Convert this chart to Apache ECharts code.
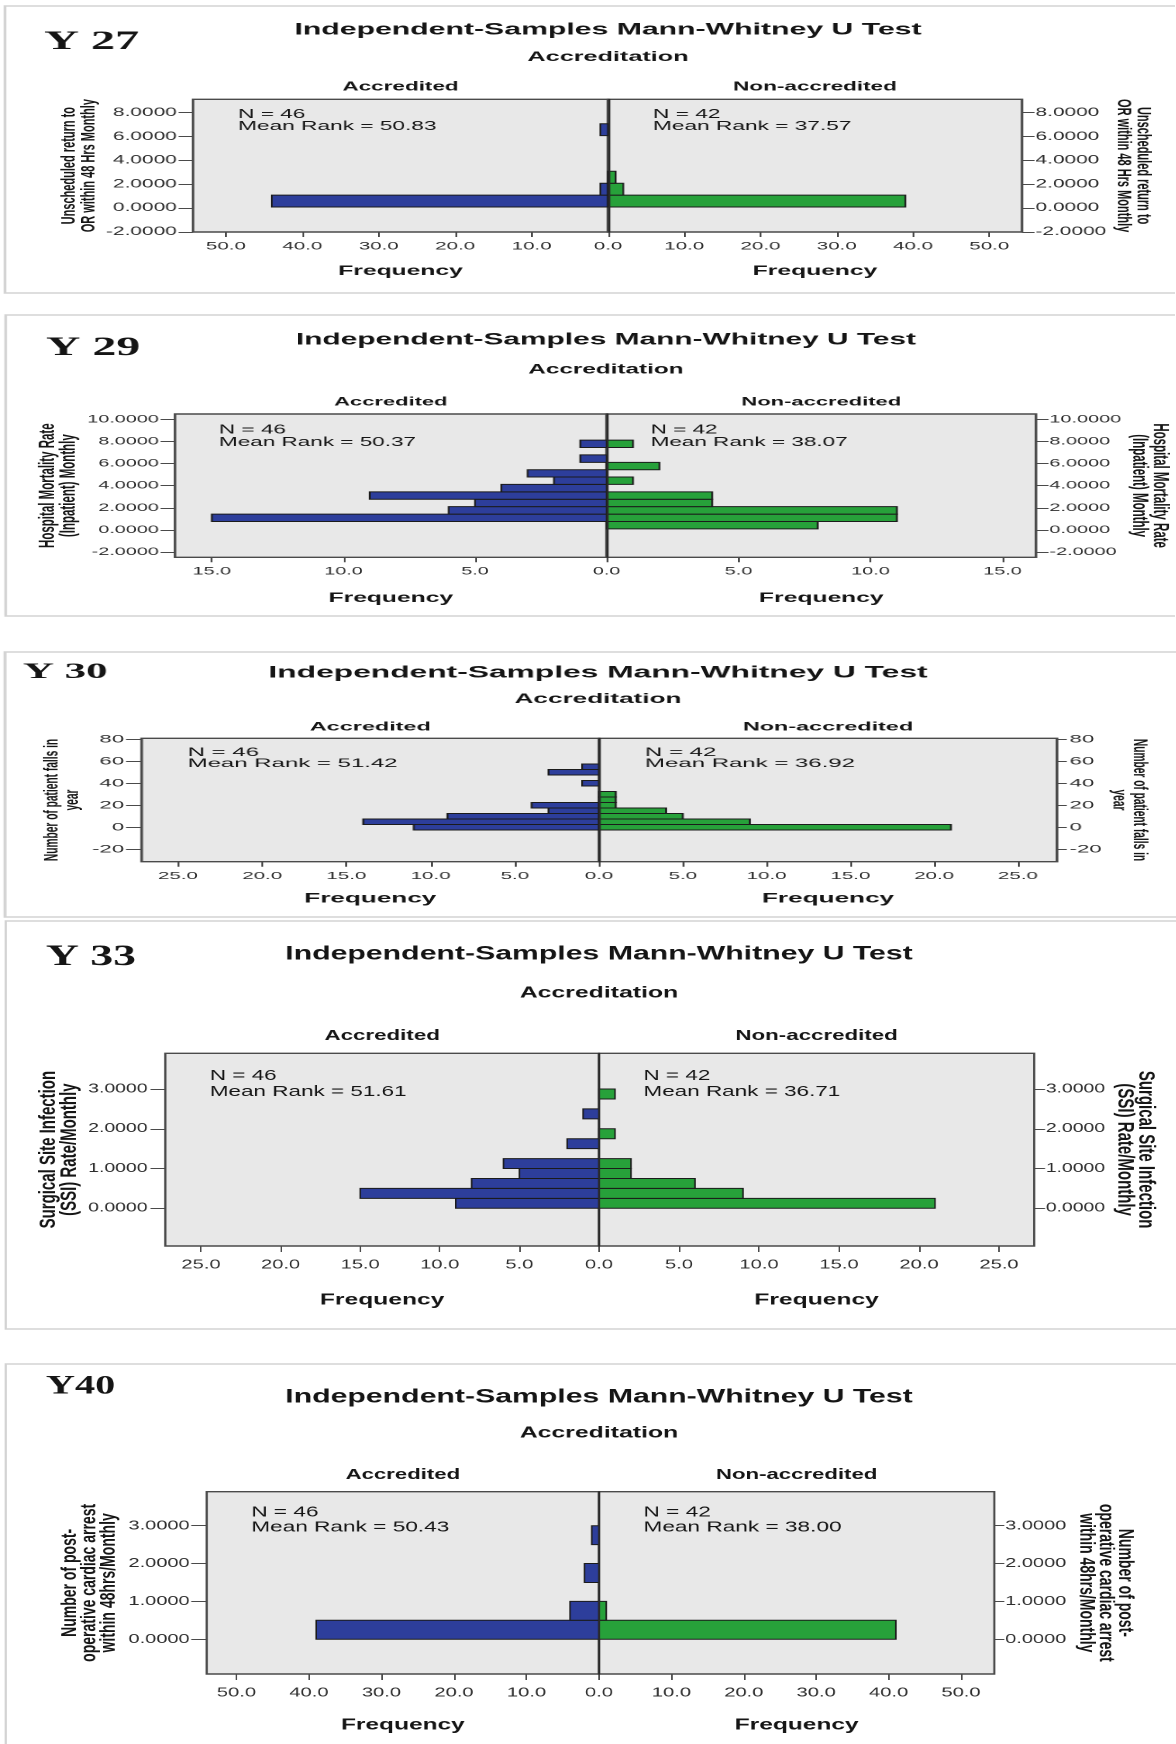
<!DOCTYPE html>
<html>
<head>
<meta charset="utf-8">
<script src="https://cdn.jsdelivr.net/npm/echarts@6/dist/echarts.min.js"></script>
<style>
  html, body { margin: 0; padding: 0; background: #ffffff; }
  #page { position: relative; width: 1176px; height: 1744px; overflow: hidden; background: #ffffff; }
  .band { position: absolute; left: 0; transform-origin: 0 0; }
</style>
</head>
<body>
<div id="page"></div>
<script>
// ---------------- data: histogram bins (value edges) and frequencies ----------------
const y27Edges = [0.08, 1.08, 2.08, 3.08, 4.08, 5.08, 6.08, 7.08];
const y27Accredited = [44, 1, 0, 0, 0, 0, 1];
const y27NonAccredited = [39, 2, 1, 0, 0, 0, 0];
const y27ValueTicks = [-2, 0, 2, 4, 6, 8];
const y27FreqTicks = [0, 10, 20, 30, 40, 50];
const y27N = [46, 42];
const y27MeanRank = [50.83, 37.57];

const y29Edges = [0.09, 0.76, 1.43, 2.10, 2.77, 3.44, 4.11, 4.78, 5.44, 6.11, 6.78, 7.45, 8.12];
const y29Accredited = [0, 15, 6, 5, 9, 4, 2, 3, 0, 1, 0, 1];
const y29NonAccredited = [8, 11, 11, 4, 4, 0, 1, 0, 2, 0, 0, 1];
const y29ValueTicks = [-2, 0, 2, 4, 6, 8, 10];
const y29FreqTicks = [0, 5, 10, 15];
const y29N = [46, 42];
const y29MeanRank = [50.37, 38.07];

const y30Edges = [-2.5, 2.5, 7.5, 12.5, 17.5, 22.5, 27.5, 32.5, 37.5, 42.5, 47.5, 52.5, 57.5];
const y30Accredited = [11, 14, 9, 3, 4, 0, 0, 0, 1, 0, 3, 1];
const y30NonAccredited = [21, 9, 5, 4, 1, 1, 1, 0, 0, 0, 0, 0];
const y30ValueTicks = [-20, 0, 20, 40, 60, 80];
const y30FreqTicks = [0, 5, 10, 15, 20, 25];
const y30N = [46, 42];
const y30MeanRank = [51.42, 36.92];

const y33Edges = [0, 0.25, 0.5, 0.75, 1.0, 1.25, 1.5, 1.75, 2.0, 2.25, 2.5, 2.75, 3.0];
const y33Accredited = [9, 15, 8, 5, 6, 0, 2, 0, 0, 1, 0, 0];
const y33NonAccredited = [21, 9, 6, 2, 2, 0, 0, 1, 0, 0, 0, 1];
const y33ValueTicks = [0, 1, 2, 3];
const y33FreqTicks = [0, 5, 10, 15, 20, 25];
const y33N = [46, 42];
const y33MeanRank = [51.61, 36.71];

const y40Edges = [0, 0.5, 1.0, 1.5, 2.0, 2.5, 3.0];
const y40Accredited = [39, 4, 0, 2, 0, 1];
const y40NonAccredited = [41, 1, 0, 0, 0, 0];
const y40ValueTicks = [0, 1, 2, 3];
const y40FreqTicks = [0, 10, 20, 30, 40, 50];
const y40N = [46, 42];
const y40MeanRank = [50.43, 38.00];

const TITLE = 'Independent-Samples Mann-Whitney U Test';
const GROUP_FIELD = 'Accreditation';
const GROUPS = ['Accredited', 'Non-accredited'];
const FREQ_NAME = 'Frequency';

// ---------------- styling ----------------
const FONT = "'Liberation Sans', Arial, Helvetica, sans-serif";
const SERIF = "'Liberation Serif', 'Times New Roman', serif";
const BLUE = '#2d3e9b';
const GREEN = '#27a13a';
const INK = '#151515';
const LABEL_INK = '#2e2e2e';

// Each panel is rendered narrow and stretched horizontally by k (wide lettering).
// Layout numbers are page pixels; x values are divided by k inside the panel.
const panels = [
  {
    tag: 'Y 27', edges: y27Edges, acc: y27Accredited, non: y27NonAccredited,
    valueTicks: y27ValueTicks, freqTicks: y27FreqTicks, n: y27N, rank: y27MeanRank,
    axisName: 'Unscheduled return to\nOR within 48 Hrs Monthly', valueDigits: 4,
    layout: { k: 1.8, top: 0, height: 304, box: [5, 6, 293], L: 193, Z: 608, R: 1022, T: 99.3, B: 232,
      yMin: -2.02, yMax: 9.13, xMaxL: 54.3, xMaxR: 54.3,
      tag: [44, 42, 26.8], title: [608, 30, 16.8], accr: [57, 14], group: [87, 12.5],
      legend: [45, 120.5, 12.6, 12], tickFont: [11.6, 11.4], freq: [32, 13.7],
      name: [11, 11, 51, 51], yTick: [8, 9, 7, 7.5], xTick: [5, 9] }
  },
  {
    tag: 'Y 29', edges: y29Edges, acc: y29Accredited, non: y29NonAccredited,
    valueTicks: y29ValueTicks, freqTicks: y29FreqTicks, n: y29N, rank: y29MeanRank,
    axisName: 'Hospital Mortality Rate\n(Inpatient) Monthly', valueDigits: 4,
    layout: { k: 1.8, top: 304, height: 336, box: [5.7, 315, 616], L: 175, Z: 606.6, R: 1036, T: 414, B: 557.3,
      yMin: -2.48, yMax: 10.48, xMaxL: 16.4, xMaxR: 16.27,
      tag: [46, 348, 26.5], title: [606, 340, 16.6], accr: [370, 13.5], group: [402, 12.2],
      legend: [44, 436.3, 12.5, 12.5], tickFont: [11, 11], freq: [34, 13.7],
      name: [11.5, 11.5, 52, 50.6], yTick: [8, 9, 7, 7.5], xTick: [5, 8.9] }
  },
  {
    tag: 'Y 30', edges: y30Edges, acc: y30Accredited, non: y30NonAccredited,
    valueTicks: y30ValueTicks, freqTicks: y30FreqTicks, n: y30N, rank: y30MeanRank,
    axisName: 'Number of patient falls in\nyear', valueDigits: 0,
    layout: { k: 1.95, top: 640, height: 279, box: [5, 652, 917], L: 141.6, Z: 599, R: 1057, T: 738.3, B: 861.7,
      yMin: -31.3, yMax: 80.9, xMaxL: 27.16, xMaxR: 27.33,
      tag: [23, 672.5, 22], title: [598, 673, 16.3], accr: [699.5, 13.4], group: [727, 12],
      legend: [46, 758, 12.3, 11], tickFont: [11.3, 10.5], freq: [30.6, 13.4],
      name: [10.2, 10.5, 30, 26], yTick: [8, 9, 5, 6.5], xTick: [5, 9] }
  },
  {
    tag: 'Y 33', edges: y33Edges, acc: y33Accredited, non: y33NonAccredited,
    valueTicks: y33ValueTicks, freqTicks: y33FreqTicks, n: y33N, rank: y33MeanRank,
    axisName: 'Surgical Site Infection\n(SSI) Rate/Monthly', valueDigits: 4,
    layout: { k: 1.55, top: 919, height: 426, box: [5.7, 921, 1329], L: 165.3, Z: 599, R: 1034.2, T: 1053.3, B: 1246,
      yMin: -0.95, yMax: 3.9, xMaxL: 27.24, xMaxR: 27.2,
      tag: [46, 957.5, 29.4], title: [599, 954, 19.5], accr: [993, 16], group: [1036, 14.4],
      legend: [44.5, 1084, 14.5, 16.2], tickFont: [12.5, 13], freq: [46, 15.9],
      name: [15, 13.5, 55, 51.5], yTick: [9.5, 11.5, 7, 7.5], xTick: [6, 12.5] }
  },
  {
    tag: 'Y40', edges: y40Edges, acc: y40Accredited, non: y40NonAccredited,
    valueTicks: y40ValueTicks, freqTicks: y40FreqTicks, n: y40N, rank: y40MeanRank,
    axisName: 'Number of post-\noperative cardiac arrest\nwithin 48hrs/Monthly', valueDigits: 4,
    layout: { k: 1.55, top: 1345, height: 399, box: [5.7, 1364, 1760], L: 206.7, Z: 599, R: 994.3, T: 1491.7, B: 1674,
      yMin: -0.92, yMax: 3.9, xMaxL: 54.1, xMaxR: 54.6,
      tag: [46, 1387, 25.9], title: [599, 1397, 19.5], accr: [1433, 16], group: [1475, 14.3],
      legend: [44.5, 1520, 14.6, 15.3], tickFont: [12.9, 13], freq: [43, 15.8],
      name: [14, 12.5, 57, 53], yTick: [10, 11, 6.5, 7], xTick: [6, 12.2] }
  }
];

// one histogram bar per bin: [lower edge, upper edge, frequency]
function binRows(edges, counts) {
  return counts.map((c, i) => [edges[i], edges[i + 1], c]);
}

function histBar(params, api) {
  const cnt = api.value(2);
  if (!cnt) return null;
  const a = api.coord([0, api.value(0)]);
  const b = api.coord([cnt, api.value(1)]);
  return {
    type: 'rect',
    shape: {
      x: Math.min(a[0], b[0]), y: Math.min(a[1], b[1]),
      width: Math.abs(b[0] - a[0]), height: Math.abs(b[1] - a[1])
    },
    style: { fill: api.visual('color'), stroke: '#1b1b1b', lineWidth: 1 }
  };
}

function buildOption(p) {
  const L = p.layout, k = L.k;
  const X = v => v / k;
  const Y = v => v - L.top;
  const gridStyle = { show: true, backgroundColor: '#e8e8e8', borderColor: '#4a4a4a', borderWidth: 1.4,
                      containLabel: false, outerBoundsMode: 'none' };
  const gridTop = Y(L.T), gridH = L.B - L.T;

  const freqAxis = (gridIndex, max, inverse, labelValues) => ({
    type: 'value', gridIndex, min: 0, max, inverse, position: 'bottom',
    axisLine: { show: false, onZero: false }, splitLine: { show: false },
    axisTick: { show: true, customValues: p.freqTicks, length: L.xTick[0], lineStyle: { color: '#4a4a4a', width: 1 } },
    axisLabel: { customValues: labelValues, margin: L.xTick[1], formatter: v => v.toFixed(1),
                 fontFamily: FONT, fontSize: L.tickFont[1], color: LABEL_INK },
    name: FREQ_NAME, nameLocation: 'middle', nameGap: L.freq[0],
    nameTextStyle: { fontFamily: FONT, fontSize: L.freq[1], fontWeight: 'bold', color: INK }
  });

  const valueAxis = (gridIndex, position, tickLen, margin, nameGap, rot) => ({
    type: 'value', gridIndex, position, min: L.yMin, max: L.yMax,
    axisLine: { show: false, onZero: false }, splitLine: { show: false },
    axisTick: { show: true, customValues: p.valueTicks, length: tickLen, lineStyle: { color: '#4a4a4a', width: 1 } },
    axisLabel: { customValues: p.valueTicks, margin, formatter: v => v.toFixed(p.valueDigits),
                 fontFamily: FONT, fontSize: L.tickFont[0], color: LABEL_INK },
    name: p.axisName, nameLocation: 'middle', nameGap, nameRotate: rot,
    nameTextStyle: { fontFamily: FONT, fontSize: L.name[0], lineHeight: L.name[1], fontWeight: 'bold',
                     color: INK, align: 'center' }
  });

  const legendText = i => 'N = ' + p.n[i] + '\nMean Rank = ' + p.rank[i].toFixed(2);

  const text = (x, y, str, size, weight, align, family) => ({
    type: 'text', x, y, silent: true,
    style: { text: str, fontFamily: family || FONT, fontSize: size, fontWeight: weight,
             fill: INK, align: align, verticalAlign: 'middle' }
  });

  const graphics = [
    { type: 'rect', silent: true, z: -1,
      shape: { x: X(L.box[0]), y: Y(L.box[1]), width: X(1190) - X(L.box[0]), height: L.box[2] - L.box[1] },
      style: { fill: 'none', stroke: '#d3d3d3', lineWidth: 1.5 } },
    text(X(L.tag[0]), Y(L.tag[1]), p.tag, L.tag[2], 'bold', 'left', SERIF),
    text(X(L.title[0]), Y(L.title[1]), TITLE, L.title[2], 'bold', 'center'),
    text(X(L.title[0]), Y(L.accr[0]), GROUP_FIELD, L.accr[1], 'bold', 'center'),
    text(X((L.L + L.Z) / 2), Y(L.group[0]), GROUPS[0], L.group[1], 'bold', 'center'),
    text(X((L.Z + L.R) / 2), Y(L.group[0]), GROUPS[1], L.group[1], 'bold', 'center'),
    { type: 'text', x: X(L.L + L.legend[0]), y: Y(L.legend[1]), silent: true,
      style: { text: legendText(0), fontFamily: FONT, fontSize: L.legend[2], lineHeight: L.legend[3],
               fill: INK, align: 'left', verticalAlign: 'middle' } },
    { type: 'text', x: X(L.Z + L.legend[0]), y: Y(L.legend[1]), silent: true,
      style: { text: legendText(1), fontFamily: FONT, fontSize: L.legend[2], lineHeight: L.legend[3],
               fill: INK, align: 'left', verticalAlign: 'middle' } }
  ];

  return {
    animation: false,
    backgroundColor: 'transparent',
    grid: [
      Object.assign({ left: X(L.L), top: gridTop, width: X(L.Z) - X(L.L), height: gridH }, gridStyle),
      Object.assign({ left: X(L.Z), top: gridTop, width: X(L.R) - X(L.Z), height: gridH }, gridStyle)
    ],
    xAxis: [
      freqAxis(0, L.xMaxL, true, p.freqTicks.filter(v => v !== 0)),
      freqAxis(1, L.xMaxR, false, p.freqTicks)
    ],
    yAxis: [
      valueAxis(0, 'left', L.yTick[0], L.yTick[1], L.name[2], 90),
      valueAxis(1, 'right', L.yTick[2], L.yTick[3], L.name[3], -90),
      // zero-frequency divider between the two groups
      { type: 'value', gridIndex: 1, position: 'left', min: L.yMin, max: L.yMax, z: 6,
        axisLine: { show: true, onZero: false, lineStyle: { color: '#2a2a2a', width: 1.2 } },
        axisTick: { show: false }, axisLabel: { show: false }, splitLine: { show: false } }
    ],
    series: [
      { type: 'custom', name: GROUPS[0], xAxisIndex: 0, yAxisIndex: 0, renderItem: histBar,
        itemStyle: { color: BLUE }, encode: { x: 2, y: [0, 1] }, data: binRows(p.edges, p.acc), z: 3 },
      { type: 'custom', name: GROUPS[1], xAxisIndex: 1, yAxisIndex: 1, renderItem: histBar,
        itemStyle: { color: GREEN }, encode: { x: 2, y: [0, 1] }, data: binRows(p.edges, p.non), z: 3 }
    ],
    graphic: { elements: graphics }
  };
}

const page = document.getElementById('page');
panels.forEach(p => {
  const L = p.layout;
  const div = document.createElement('div');
  div.className = 'band';
  div.style.top = L.top + 'px';
  div.style.width = (1176 / L.k) + 'px';
  div.style.height = L.height + 'px';
  div.style.transform = 'scaleX(' + L.k + ')';
  page.appendChild(div);
  const chart = echarts.init(div, null, { renderer: 'canvas', devicePixelRatio: 2 });
  chart.setOption(buildOption(p));
});
</script>
</body>
</html>
